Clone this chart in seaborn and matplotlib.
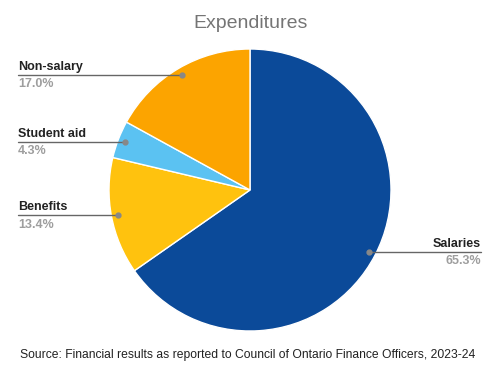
import numpy as np
import matplotlib
matplotlib.use("Agg")
import matplotlib.pyplot as plt
import seaborn as sns

categories = ["Salaries", "Benefits", "Student aid", "Non-salary"]
values = [65.3, 13.4, 4.3, 17.0]
pct_labels = ["65.3%", "13.4%", "4.3%", "17.0%"]
colors = ["#0B4A99", "#FFC20E", "#5BC2F2", "#FCA400"]

sns.set_style("white")
plt.rcParams["font.family"] = ["Liberation Sans", "DejaVu Sans"]

W, H = 501, 371
fig = plt.figure(figsize=(W / 100, H / 100), dpi=100)
cx, cy, R = 250, 190, 141
ax = fig.add_axes([(cx - R) / W, 1 - (cy + R) / H, 2 * R / W, 2 * R / H])

wedges, _ = ax.pie(values, startangle=90, counterclock=False, colors=colors,
                   radius=1, wedgeprops=dict(edgecolor="white", linewidth=1))
ax.set_xlim(-1, 1)
ax.set_ylim(-1, 1)
ax.set_aspect("equal")
ax.axis("off")

total = sum(values)
cum = 0.0
left_x = (18 - cx) / R
right_x = (481 - cx) / R
for name, v, pl in zip(categories, values, pct_labels):
    mid = cum + v / 2
    cum += v
    ang = np.deg2rad(90 - 360 * mid / total)
    px, py = 0.95 * np.cos(ang), 0.95 * np.sin(ang)
    if px > 0:
        tx, ha = right_x, "right"
    else:
        tx, ha = left_x, "left"
    ax.plot([px, tx], [py, py], color="#666666", lw=1, clip_on=False)
    ax.plot([px], [py], "o", color="#888888", ms=3.5, clip_on=False)
    ax.annotate(name, (tx, py), xytext=(0, 1.5), textcoords="offset points",
                ha=ha, va="bottom", fontsize=9, fontweight="bold", color="#222222",
                annotation_clip=False)
    ax.annotate(pl, (tx, py), xytext=(0, -2.5), textcoords="offset points",
                ha=ha, va="top", fontsize=9, fontweight="bold", color="#9E9E9E",
                annotation_clip=False)

fig.text(0.5, 1 - 24 / H, "Expenditures", ha="center", va="center",
         fontsize=14, color="#757575")
fig.text(248 / W, 1 - 355 / H,
         "Source: Financial results as reported to Council of Ontario Finance Officers, 2023-24",
         ha="center", va="center", fontsize=8.75, color="#222222")

fig.savefig("out.png", dpi=100)
